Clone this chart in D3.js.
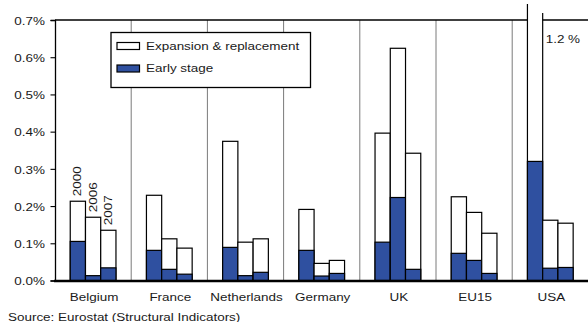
<!DOCTYPE html>
<html>
<head>
<meta charset="utf-8">
<script src="https://cdn.jsdelivr.net/npm/d3@7"></script>
<style>
  html, body { margin: 0; padding: 0; background: #fff; }
  svg { display: block; }
  text { font-family: "Liberation Sans", Arial, Helvetica, sans-serif; fill: #1a1a1a; }
</style>
</head>
<body>
<svg id="chart" width="588" height="322"></svg>
<script>
// ---------- data ----------
const countries = ["Belgium", "France", "Netherlands", "Germany", "UK", "EU15", "USA"];
const years = ["2000", "2006", "2007"];
// Early stage venture capital, % of GDP
const early2000 = [0.105, 0.081, 0.089, 0.081, 0.103, 0.073, 0.320];
const early2006 = [0.013, 0.030, 0.013, 0.012, 0.223, 0.054, 0.033];
const early2007 = [0.034, 0.017, 0.022, 0.019, 0.030, 0.019, 0.035];
// Expansion & replacement venture capital, % of GDP
const expansion2000 = [0.108, 0.148, 0.285, 0.110, 0.293, 0.152, 0.880];
const expansion2006 = [0.157, 0.082, 0.090, 0.034, 0.401, 0.129, 0.129];
const expansion2007 = [0.101, 0.070, 0.090, 0.035, 0.312, 0.108, 0.119];
const yTicks = [0, 0.1, 0.2, 0.3, 0.4, 0.5, 0.6, 0.7];
const seriesNames = ["Expansion & replacement", "Early stage"];
const sourceText = "Source:  Eurostat (Structural Indicators)";

// ---------- styling ----------
const BLUE = "#2f50a0";
const FS = 11.7;      // font size
const SX = 1.15;      // horizontal glyph stretch

const svg = d3.select("#chart");
const pLeft = 55, pRight = 588.4, pTop = 20, pBottom = 280.5;

const y = d3.scaleLinear().domain([0, 0.7]).range([pBottom, pTop]);
const x0 = d3.scaleBand().domain(countries).range([pLeft, pRight]).paddingInner(0).paddingOuter(0);
const x1 = d3.scaleBand().domain(years).range([0, x0.bandwidth()]).paddingInner(0).paddingOuter(1);

const earlyBy = { "2000": early2000, "2006": early2006, "2007": early2007 };
const expBy = { "2000": expansion2000, "2006": expansion2006, "2007": expansion2007 };

const data = [];
countries.forEach((c, i) => {
  years.forEach(yr => {
    const e = earlyBy[yr][i], x = expBy[yr][i];
    data.push({ country: c, year: yr, early: e, total: +(e + x).toFixed(3) });
  });
});

function label(g, x, yy, str, anchor, rot, size) {
  return g.append("text")
    .attr("transform", `translate(${x},${yy}) rotate(${rot || 0}) scale(${SX},1)`)
    .attr("text-anchor", anchor || "start")
    .attr("font-size", size || FS)
    .text(str);
}

// group separators
svg.append("g").selectAll("line")
  .data(countries.slice(1))
  .join("line")
  .attr("x1", d => x0(d)).attr("x2", d => x0(d))
  .attr("y1", pTop).attr("y2", pBottom)
  .attr("stroke", "#7a7a7a").attr("stroke-width", 1);

// top frame line
svg.append("line")
  .attr("x1", pLeft).attr("x2", pRight).attr("y1", pTop).attr("y2", pTop)
  .attr("stroke", "#000").attr("stroke-width", 1.3);

// y axis
const yAxis = svg.append("g")
  .attr("transform", `translate(${pLeft},0)`)
  .call(d3.axisLeft(y).tickValues(yTicks).tickSize(4.5).tickPadding(0)
    .tickFormat(d => d.toFixed(1) + "%"));
yAxis.select(".domain").attr("stroke", "#000").attr("stroke-width", 1.3);
yAxis.selectAll(".tick line").attr("stroke", "#000").attr("stroke-width", 1.1);
yAxis.selectAll(".tick text")
  .attr("x", null).attr("dy", null)
  .attr("transform", `translate(-10,4.2) scale(${SX},1)`)
  .attr("font-size", FS).attr("font-family", "Liberation Sans, Arial, sans-serif")
  .attr("fill", "#1a1a1a");

// bars
const clipTop = 4;
const bars = svg.append("g");
data.forEach(d => {
  const bx = x0(d.country) + x1(d.year);
  const bw = x1.bandwidth();
  const yt = y(d.total);
  if (yt >= pTop) {
    bars.append("rect")
      .attr("x", bx).attr("y", yt).attr("width", bw).attr("height", pBottom - yt)
      .attr("fill", "#fff").attr("stroke", "#000").attr("stroke-width", 1.2);
  } else {
    // off-scale bar: drawn through the frame, open at top
    bars.append("rect")
      .attr("x", bx).attr("y", clipTop).attr("width", bw).attr("height", pBottom - clipTop)
      .attr("fill", "#fff");
    bars.append("line").attr("x1", bx).attr("x2", bx).attr("y1", clipTop).attr("y2", pBottom)
      .attr("stroke", "#000").attr("stroke-width", 1.2);
    bars.append("line").attr("x1", bx + bw).attr("x2", bx + bw).attr("y1", clipTop + 9).attr("y2", pBottom)
      .attr("stroke", "#000").attr("stroke-width", 1.2);
    label(svg, bx + bw + 3, 43, d.total.toFixed(1) + " %", "start");
  }
  const ye = y(d.early);
  bars.append("rect")
    .attr("x", bx).attr("y", ye).attr("width", bw).attr("height", pBottom - ye)
    .attr("fill", BLUE).attr("stroke", "#000").attr("stroke-width", 1.2);
});

// bottom axis line
svg.append("line")
  .attr("x1", pLeft - 1).attr("x2", pRight).attr("y1", pBottom + 0.5).attr("y2", pBottom + 0.5)
  .attr("stroke", "#000").attr("stroke-width", 2.4);

// year labels over first group
data.filter(d => d.country === countries[0]).forEach(d => {
  const cx = x0(d.country) + x1(d.year) + x1.bandwidth() / 2;
  label(svg, cx + 3.5, y(d.total) - 5, d.year, "start", -90);
});

// country labels
countries.forEach(c => {
  label(svg, x0(c) + x0.bandwidth() / 2 + 1, 300.5, c, "middle");
});

// legend
const lg = svg.append("g");
lg.append("rect").attr("x", 111).attr("y", 32.5).attr("width", 199.5).attr("height", 55)
  .attr("fill", "#fff").attr("stroke", "#000").attr("stroke-width", 1.3);
const legendFill = ["#fff", BLUE];
seriesNames.forEach((s, i) => {
  const ly = 42.5 + i * 22.5;
  lg.append("rect").attr("x", 117).attr("y", ly).attr("width", 22.5).attr("height", 7)
    .attr("fill", legendFill[i]).attr("stroke", "#000").attr("stroke-width", 1.2);
  label(lg, 146, ly + 7.2, s, "start");
});

// source
label(svg, 8, 320.5, sourceText, "start");
</script>
</body>
</html>
